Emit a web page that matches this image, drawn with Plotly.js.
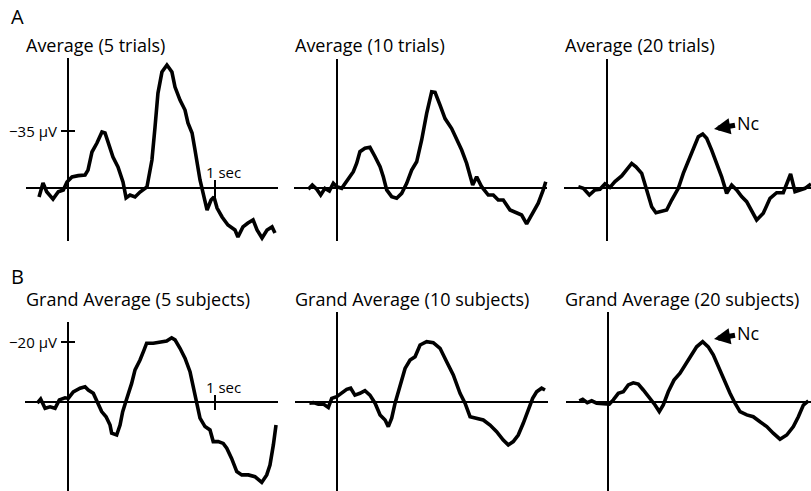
<!DOCTYPE html>
<html><head><meta charset="utf-8">
<script src="https://cdn.plot.ly/plotly-3.0.1.min.js"></script>
<style>html,body{margin:0;padding:0;background:#fff;}#chart{width:811px;height:491px;}</style>
</head><body><div id="chart"></div>
<script>
// ---------- DATA (time in s, amplitude in µV; negative plotted up) ----------
const panelTitles = ["Average (5 trials)", "Average (10 trials)", "Average (20 trials)",
  "Grand Average (5 subjects)", "Grand Average (10 subjects)", "Grand Average (20 subjects)"];
const rowLabels = ["A", "B"];
const ampTickValues = [-35, -20];
const ampTickLabels = ["\u221235 \u00b5V", "\u221220 \u00b5V"];
const timeTickValue = 1;
const timeTickLabel = "1 sec";
const peakLabel = "Nc";

const tTrials5 = [-0.197,-0.170,-0.145,-0.102,-0.066,-0.032,-0.007,0.027,0.070,0.116,0.136,0.163,0.197,0.231,0.252,0.272,0.306,0.340,0.374,0.395,0.422,0.456,0.490,0.537,0.571,0.592,0.612,0.639,0.673,0.707,0.728,0.762,0.796,0.816,0.844,0.864,0.898,0.925,0.946,0.973,0.993,1.014,1.048,1.088,1.136,1.156,1.190,1.224,1.259,1.286,1.320,1.354,1.388,1.408];
const vTrials5 = [5.5,-3.1,2.3,6.8,2.3,1.2,-3.7,-6.8,-7.6,-8.0,-11.0,-22.1,-27.6,-34.4,-33.8,-28.2,-19.0,-12.9,-3.7,6.1,4.3,5.5,2.5,-0.6,-17.2,-37.4,-58.3,-71.2,-75.5,-71.2,-62.0,-54.0,-47.9,-39.9,-33.8,-23.3,-4.9,5.5,13.5,7.4,5.5,12.3,17.8,22.7,25.8,30.1,23.9,21.5,19.6,25.8,30.7,25.8,23.9,27.6];

const tTrials10 = [-0.195,-0.168,-0.138,-0.111,-0.082,-0.052,-0.025,-0.002,0.032,0.054,0.088,0.111,0.134,0.156,0.190,0.224,0.259,0.293,0.315,0.338,0.372,0.406,0.440,0.474,0.508,0.542,0.576,0.610,0.644,0.667,0.701,0.735,0.780,0.814,0.848,0.882,0.923,0.950,0.984,1.029,1.063,1.097,1.131,1.177,1.222,1.256,1.290,1.335,1.369,1.403,1.420];
const vTrials10 = [0.8,-1.8,0.8,4.3,0.2,1.8,-2.9,-0.8,0.2,-2.9,-6.9,-10.0,-15.2,-22.3,-24.4,-25.0,-19.2,-13.1,-6.9,1.2,5.3,6.3,3.3,-2.9,-11.0,-16.1,-29.5,-45.8,-59.1,-58.7,-50.9,-42.6,-36.5,-30.4,-23.3,-15.1,-1.8,-6.9,-0.8,4.3,4.3,7.4,7.4,13.5,15.2,16.6,22.1,14.4,9.3,1.2,-3.9];

const tTrials20 = [-0.195,-0.161,-0.120,-0.082,-0.048,-0.014,0.020,0.054,0.100,0.134,0.168,0.197,0.236,0.270,0.304,0.333,0.372,0.406,0.440,0.485,0.519,0.553,0.587,0.621,0.651,0.678,0.712,0.746,0.780,0.814,0.848,0.882,0.916,0.950,0.984,1.018,1.063,1.109,1.154,1.199,1.249,1.279,1.313,1.347,1.388];
const vTrials20 = [-0.8,0.2,4.3,1.2,0.8,-2.5,-0.4,-3.9,-7.4,-11.0,-15.1,-13.0,-9.0,1.2,11.5,15.2,14.5,13.5,7.4,0.2,-9.0,-16.1,-24.4,-31.5,-33.1,-30.5,-23.3,-15.1,-6.9,3.3,-1.8,1.2,5.3,8.4,13.5,19.6,15.5,6.3,2.9,2.9,-8.6,2.3,1.2,0.2,-2.5];

const tSubj5 = [-0.209,-0.186,-0.156,-0.122,-0.088,-0.059,-0.020,0.002,0.036,0.082,0.116,0.138,0.172,0.199,0.229,0.259,0.286,0.297,0.331,0.354,0.372,0.399,0.433,0.456,0.490,0.517,0.535,0.580,0.626,0.671,0.705,0.728,0.762,0.796,0.830,0.853,0.876,0.898,0.932,0.966,0.988,1.022,1.056,1.080,1.113,1.148,1.182,1.227,1.272,1.318,1.352,1.374,1.397,1.415];
const vSubj5 = [0.4,-1.0,2.1,1.6,2.1,-0.7,-1.4,-1.2,-3.4,-4.6,-5.1,-4.0,-2.9,-0.1,3.2,4.9,7.7,10.4,11.0,7.7,3.2,-1.0,-6.2,-10.7,-14.0,-17.3,-19.6,-19.6,-20.1,-20.3,-21.4,-20.7,-17.9,-14.6,-10.1,-5.1,-0.1,5.4,8.2,9.3,13.2,13.2,13.8,15.4,18.8,23.2,24.3,24.3,24.9,26.8,24.3,21.0,14.3,7.7];

const tSubj10 = [-0.188,-0.161,-0.127,-0.093,-0.059,-0.036,-0.002,0.032,0.066,0.093,0.122,0.156,0.190,0.224,0.259,0.293,0.327,0.349,0.372,0.395,0.429,0.463,0.497,0.531,0.565,0.610,0.655,0.701,0.746,0.791,0.837,0.871,0.905,0.950,0.995,1.041,1.086,1.131,1.165,1.199,1.233,1.267,1.301,1.331,1.358,1.392,1.415];
const vSubj10 = [0.4,0.2,0.7,0.7,1.8,-1.2,-1.8,-2.9,-4.2,-4.6,-2.3,-2.9,-3.8,-2.3,0.4,4.3,6.0,8.2,5.4,0.4,-5.1,-11.2,-14.0,-15.1,-19.0,-20.1,-19.8,-17.9,-13.4,-9.0,-2.9,0.4,4.9,5.4,6.0,7.7,9.9,12.7,14.3,13.2,11.0,7.1,2.7,-1.2,-3.4,-4.6,-4.0];

const tSubj20 = [-0.195,-0.172,-0.141,-0.111,-0.077,-0.032,0.009,0.036,0.070,0.104,0.138,0.172,0.206,0.240,0.286,0.320,0.349,0.376,0.410,0.449,0.490,0.524,0.558,0.603,0.644,0.682,0.716,0.750,0.784,0.830,0.864,0.898,0.944,0.988,1.034,1.080,1.124,1.170,1.216,1.261,1.295,1.329,1.363];
const vSubj20 = [-0.4,-0.9,0.2,-0.4,0.4,0.7,0.7,-0.7,-2.9,-3.4,-5.7,-6.4,-6.0,-4.0,-1.2,1.0,3.2,1.0,-3.4,-7.3,-9.6,-12.3,-15.1,-18.4,-20.1,-18.4,-15.7,-11.8,-8.4,-2.9,0.4,3.2,4.3,4.9,6.6,8.2,10.4,12.4,11.0,8.2,4.9,1.0,-0.4];

// ---------- LAYOUT GEOMETRY (pixels) ----------
const W = 811, H = 491, PX_PER_S = 147;
const FONT = "'Open Sans', 'DejaVu Sans', sans-serif";
const rows = [
  {base: 188, scale: 57/35, top: 48, bottom: 248, titleY: 45, labelY: 17, secLabelY: 172, secTick: [180, 198]},
  {base: 402, scale: 3, top: 305, bottom: 491, titleY: 299, labelY: 276, secLabelY: 387, secTick: [395, 410]}
];
const panels = [
  {t: tTrials5,  v: vTrials5,  row: 0, zero: 68,  hL: 26,  hR: 278, vT: 58,  vB: 241, titleX: 24,  ticks: true},
  {t: tTrials10, v: vTrials10, row: 0, zero: 337, hL: 294, hR: 547, vT: 59,  vB: 241, titleX: 293},
  {t: tTrials20, v: vTrials20, row: 0, zero: 607, hL: 564, hR: 830, vT: 59,  vB: 241, titleX: 563, nc: {head: [714, 129], off: [34, -6]}},
  {t: tSubj5,    v: vSubj5,    row: 1, zero: 68,  hL: 25,  hR: 278, vT: 322, vB: 491, titleX: 24,  ticks: true},
  {t: tSubj10,   v: vSubj10,   row: 1, zero: 337, hL: 295, hR: 548, vT: 312, vB: 491, titleX: 293},
  {t: tSubj20,   v: vSubj20,   row: 1, zero: 608, hL: 566, hR: 830, vT: 312, vB: 491, titleX: 563, nc: {head: [714, 339], off: [34, -6]}}
];

const data = [], shapes = [], annotations = [];
const layout = {
  width: W, height: H, margin: {l: 0, r: 0, t: 0, b: 0},
  paper_bgcolor: "#fff", plot_bgcolor: "rgba(0,0,0,0)", showlegend: false,
  font: {family: FONT, color: "#000"}
};
const axStyle = {showgrid: false, zeroline: false, showticklabels: false, showline: false, ticks: "", fixedrange: true};

panels.forEach((p, i) => {
  const r = rows[p.row];
  const n = i + 1, xs = n === 1 ? "x" : "x" + n, ys = n === 1 ? "y" : "y" + n;
  const dl = Math.max(0, p.zero - 60), dr = Math.min(W, p.zero + 212);
  const pxT = px => (px - p.zero) / PX_PER_S;       // pixel -> seconds
  const pyV = py => (py - r.base) / r.scale;         // pixel -> µV
  layout["xaxis" + (n === 1 ? "" : n)] = Object.assign({domain: [dl / W, dr / W], range: [pxT(dl), pxT(dr)], anchor: ys}, axStyle);
  layout["yaxis" + (n === 1 ? "" : n)] = Object.assign({domain: [1 - r.bottom / H, 1 - r.top / H], range: [pyV(r.bottom), pyV(r.top)], anchor: xs}, axStyle);

  data.push({type: "scatter", mode: "lines", x: p.t, y: p.v, xaxis: xs, yaxis: ys,
    line: {color: "#000", width: 3.6}, hoverinfo: "skip"});

  const ln = {color: "#000", width: 2};
  shapes.push({type: "line", xref: xs, yref: ys, x0: pxT(p.hL), x1: pxT(p.hR), y0: 0, y1: 0, line: ln});
  shapes.push({type: "line", xref: xs, yref: ys, x0: 0, x1: 0, y0: pyV(p.vT), y1: pyV(p.vB), line: ln});

  annotations.push({xref: "paper", yref: "paper", x: p.titleX / W, y: 1 - r.titleY / H, xanchor: "left", yanchor: "middle",
    text: panelTitles[i], showarrow: false, font: {size: 18, family: FONT, color: "#000"}});

  if (p.ticks) {
    const tv = ampTickValues[p.row];
    shapes.push({type: "line", xref: xs, yref: ys, x0: pxT(p.zero - 7), x1: pxT(p.zero + 7), y0: tv, y1: tv, line: ln});
    shapes.push({type: "line", xref: xs, yref: ys, x0: timeTickValue, x1: timeTickValue, y0: pyV(r.secTick[0]), y1: pyV(r.secTick[1]), line: ln});
    annotations.push({xref: xs, yref: ys, x: pxT(p.zero - 9), y: tv, xanchor: "right", yanchor: "middle",
      text: ampTickLabels[p.row], showarrow: false, font: {size: 15, family: FONT, color: "#000"}});
    annotations.push({xref: xs, yref: ys, x: timeTickValue - 11 / PX_PER_S, y: pyV(r.secLabelY), xanchor: "left", yanchor: "middle",
      text: timeTickLabel, showarrow: false, font: {size: 15, family: FONT, color: "#000"}});
  }
  if (p.nc) {
    annotations.push({xref: xs, yref: ys, x: pxT(p.nc.head[0]), y: pyV(p.nc.head[1]), ax: p.nc.off[0], ay: p.nc.off[1],
      axref: "pixel", ayref: "pixel", text: peakLabel, showarrow: true, arrowhead: 2, arrowsize: 0.65, arrowwidth: 5,
      arrowcolor: "#000", standoff: 0, font: {size: 18, family: FONT, color: "#000"}, xanchor: "center", yanchor: "middle"});
  }
});

rows.forEach((r, k) => {
  annotations.push({xref: "paper", yref: "paper", x: 9 / W, y: 1 - r.labelY / H, xanchor: "left", yanchor: "middle",
    text: rowLabels[k], showarrow: false, font: {size: 20, family: FONT, color: "#000"}});
});

layout.shapes = shapes;
layout.annotations = annotations;
Plotly.newPlot("chart", data, layout, {displayModeBar: false, staticPlot: true});
</script>
</body></html>
